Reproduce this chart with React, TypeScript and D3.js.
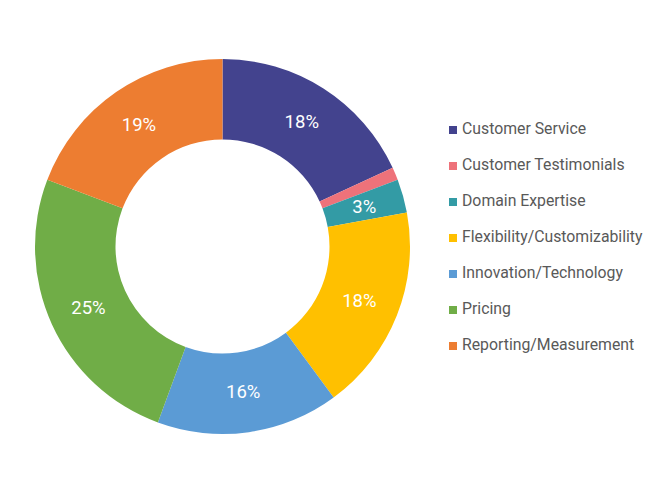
import React from "react";
import * as d3 from "d3";

const categories = [
  "Customer Service",
  "Customer Testimonials",
  "Domain Expertise",
  "Flexibility/Customizability",
  "Innovation/Technology",
  "Pricing",
  "Reporting/Measurement",
];
const values = [18.1, 1.1, 2.9, 17.8, 15.7, 25.2, 19.2];
const colors = ["#43438E", "#EE727A", "#339BA5", "#FFC000", "#5B9BD5", "#70AD47", "#ED7D31"];

const W = 650;
const H = 494;
const CX = 222.5;
const CY = 246.5;
const R = 187.5;
const RI = 107;

export default function App() {
  const total = d3.sum(values);
  const pie = d3.pie<number>().sort(null).value((d) => d)(values);
  const arc = d3.arc<d3.PieArcDatum<number>>().innerRadius(RI).outerRadius(R);
  const fmt = (v: number) => `${Math.round((v / total) * 100)}%`;
  const legendY = d3.scalePoint<string>().domain(categories).range([128, 344]);
  return (
    <svg
      width={W}
      height={H}
      style={{ position: "absolute", left: 0, top: 0, fontFamily: "Roboto, sans-serif" }}
    >
      <rect width={W} height={H} fill="#ffffff" />
      <g transform={`translate(${CX},${CY})`}>
        {pie.map((p, i) => (
          <path key={i} d={arc(p) || ""} fill={colors[i]} />
        ))}
        {pie.map((p, i) => {
          if (values[i] / total < 0.02) return null;
          const [x, y] = arc.centroid(p);
          return (
            <text
              key={i}
              x={x}
              y={y}
              textAnchor="middle"
              dominantBaseline="central"
              fill="#ffffff"
              fontSize={18.5}
            >
              {fmt(values[i])}
            </text>
          );
        })}
      </g>
      <g>
        {categories.map((c, i) => {
          const y = legendY(c) as number;
          return (
            <g key={c}>
              <rect x={449} y={y - 2} width={8} height={8} fill={colors[i]} />
              <text x={462} y={y} dominantBaseline="central" fontSize={15.8} fill="#595959">
                {c}
              </text>
            </g>
          );
        })}
      </g>
    </svg>
  );
}
